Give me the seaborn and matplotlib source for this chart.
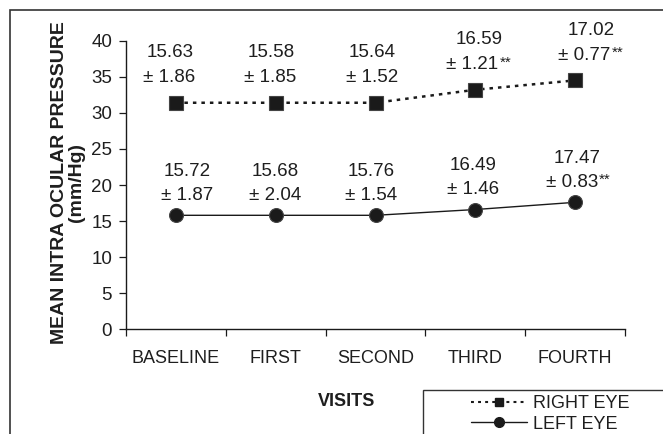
import numpy as np
import pandas as pd
import matplotlib
matplotlib.use("Agg")
import matplotlib.pyplot as plt
from matplotlib.lines import Line2D
from matplotlib.patches import Rectangle
import seaborn as sns

visits = ["BASELINE", "FIRST", "SECOND", "THIRD", "FOURTH"]
right_plot = [31.4, 31.4, 31.4, 33.2, 34.5]
left_plot = [15.8, 15.8, 15.8, 16.6, 17.6]
right_mean = ["15.63", "15.58", "15.64", "16.59", "17.02"]
right_sd = ["± 1.86", "± 1.85", "± 1.52", "± 1.21", "± 0.77"]
right_sig = ["", "", "", "**", "**"]
left_mean = ["15.72", "15.68", "15.76", "16.49", "17.47"]
left_sd = ["± 1.87", "± 2.04", "± 1.54", "± 1.46", "± 0.83"]
left_sig = ["", "", "", "", "**"]
yticks = [0, 5, 10, 15, 20, 25, 30, 35, 40]

sns.set_theme(style="white")
FAM = ["Liberation Sans", "DejaVu Sans"]
plt.rcParams["font.family"] = FAM

W, H = 663, 434
fig = plt.figure(figsize=(W / 100, H / 100), dpi=100)
ax = fig.add_axes([126 / W, 1 - 329.3 / H, (625 - 126) / W, (329.3 - 40.7) / H])

df_r = pd.DataFrame({"visit": visits, "iop": right_plot})
df_l = pd.DataFrame({"visit": visits, "iop": left_plot})
dark = "#1a1a1a"
tcol = "#1e1e1e"
sns.lineplot(data=df_r, x="visit", y="iop", ax=ax, color=dark, lw=1.8,
             linestyle=(0, (1.4, 2.0)), marker="s", markersize=10,
             markeredgecolor="#444444", markeredgewidth=0.8, sort=False)
sns.lineplot(data=df_l, x="visit", y="iop", ax=ax, color=dark, lw=1.0,
             marker="o", markersize=10, markeredgecolor="#444444",
             markeredgewidth=0.8, sort=False)

ax.set_xlim(-0.5, 4.5)
ax.set_ylim(0, 40)
ax.set_yticks(yticks)
ax.set_xticks(np.arange(-0.5, 5, 1.0))
ax.set_xticklabels([])
ax.set_xticks(np.arange(5), minor=True)
ax.set_xticklabels(visits, minor=True)
ax.tick_params(axis="x", which="major", direction="out", length=5, width=0.9,
               color=dark, bottom=True)
ax.tick_params(axis="x", which="minor", length=0, pad=15, labelsize=13,
               labelcolor=tcol)
ax.tick_params(axis="y", direction="out", length=5, width=0.9, color=dark,
               left=True, pad=5, labelsize=13.5, labelcolor=tcol)
for s in ["top", "right"]:
    ax.spines[s].set_visible(False)
for s in ["left", "bottom"]:
    ax.spines[s].set_color(dark)
    ax.spines[s].set_linewidth(1.0)
ax.set_xlabel("")
ax.set_ylabel("")
ax.patch.set_alpha(0)

# annotations
r_mdx = [-6, -5, -3, 4, 16]
r_sdx = [-7, -6, -3, -3, 9]
l_mdx = [11, -1, -4, -2, 2]
l_sdx = [11, -1, -4, -2, -3]


def add_label(i, yval, mean, sd, sig, mdx, sdx, mdy, sdy):
    ax.annotate(mean, (i, yval), xytext=(mdx, mdy), textcoords="offset pixels",
                ha="center", va="center", fontsize=13.5, color=tcol)
    t = ax.annotate(sd, (i, yval), xytext=(sdx, sdy), textcoords="offset pixels",
                    ha="center", va="center", fontsize=13.5, color=tcol)
    if sig:
        ax.annotate(sig, xy=(1.0, 1.05), xycoords=t, xytext=(1, 0),
                    textcoords="offset pixels", ha="left", va="top",
                    fontsize=11, color=tcol)


for i in range(5):
    add_label(i, right_plot[i], right_mean[i], right_sd[i], right_sig[i],
              r_mdx[i], r_sdx[i], 50, 25)
    add_label(i, left_plot[i], left_mean[i], left_sd[i], left_sig[i],
              l_mdx[i], l_sdx[i], 44, 20)

fig.text(68 / W, 1 - 183 / H, "MEAN INTRA OCULAR PRESSURE\n(mm/Hg)",
         rotation=90, ha="center", va="center", multialignment="center",
         fontsize=14, fontweight="bold", color=tcol, linespacing=1.0)
fig.text(347 / W, 1 - 402 / H, "VISITS", ha="center", va="center",
         fontsize=13, fontweight="bold", color=tcol)

# outer border and legend box
fig.patches.append(Rectangle((10 / W, -0.1), 1.2, 1 - 10 / H + 0.1,
                             transform=fig.transFigure, fill=False,
                             edgecolor="#333333", lw=1.2))
fig.patches.append(Rectangle((423 / W, -0.1), 1.0, 1 - 390 / H + 0.1,
                             transform=fig.transFigure, fill=False,
                             edgecolor="#333333", lw=1.0))
handles = [
    Line2D([], [], color=dark, lw=1.5, linestyle=(0, (1.4, 2.0)), marker="s",
           markersize=5.5),
    Line2D([], [], color=dark, lw=1.0, marker="o", markersize=7),
]
fig.legend(handles, ["RIGHT EYE", "LEFT EYE"], loc="center left",
           bbox_to_anchor=(455 / W, 1 - 414 / H), bbox_transform=fig.transFigure,
           frameon=False, fontsize=13, handlelength=3.1, handletextpad=0.3,
           labelspacing=0.2, numpoints=1, labelcolor=tcol)

fig.savefig("out.png", dpi=100)
